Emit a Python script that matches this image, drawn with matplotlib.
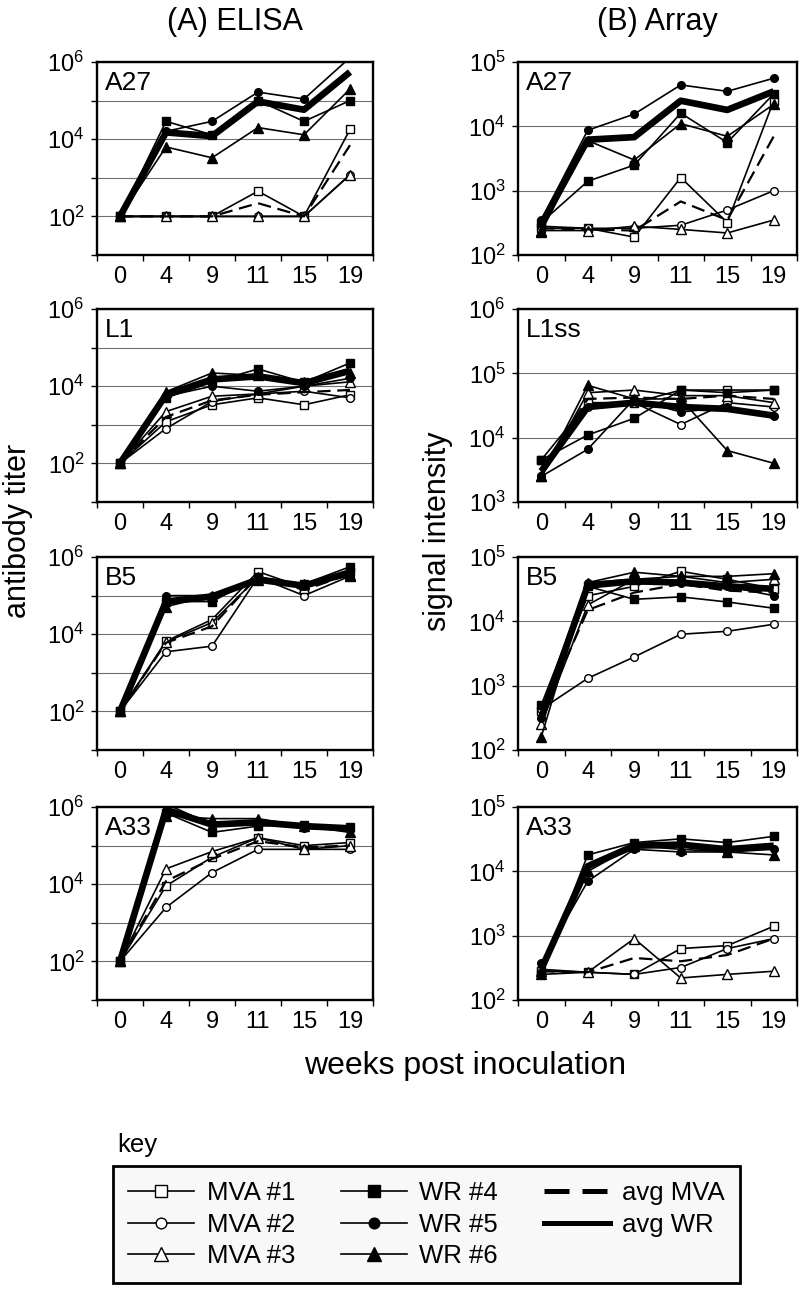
import matplotlib
matplotlib.use("Agg")
from matplotlib import pyplot as plt
from matplotlib.lines import Line2D
from matplotlib.ticker import FixedLocator, FuncFormatter, NullFormatter
import numpy as np

plt.rcParams['font.family'] = ['Liberation Sans', 'DejaVu Sans']

weeks = ['0', '4', '9', '11', '15', '19']

# ELISA titers
elisa_a27 = {
    'MVA #1': [100, 100, 100, 450, 100, 1.8e4],
    'MVA #2': [100, 100, 100, 100, 100, 1.2e3],
    'MVA #3': [100, 100, 100, 100, 100, 1.2e3],
    'WR #4': [100, 2.9e4, 1.3e4, 1.0e5, 2.9e4, 1.0e5],
    'WR #5': [100, 1.6e4, 2.9e4, 1.66e5, 1.1e5, 1.3e6],
    'WR #6': [100, 6.3e3, 3.3e3, 2.0e4, 1.3e4, 2.0e5],
    'avg MVA': [100, 100, 100, 220, 100, 7e3],
    'avg WR': [100, 1.5e4, 1.2e4, 9.5e4, 5.8e4, 5.5e5],
}
elisa_l1 = {
    'MVA #1': [100, 1.2e3, 3.3e3, 5.0e3, 3.3e3, 6.0e3],
    'MVA #2': [100, 800, 4.0e3, 6.3e3, 7.4e3, 5.0e3],
    'MVA #3': [100, 2.2e3, 5.5e3, 6.3e3, 1.0e4, 1.3e4],
    'WR #4': [100, 5.0e3, 1.26e4, 2.8e4, 1.26e4, 4.0e4],
    'WR #5': [100, 5.5e3, 1.0e4, 7.4e3, 1.0e4, 1.6e4],
    'WR #6': [100, 7.2e3, 2.2e4, 1.9e4, 1.3e4, 2.2e4],
    'avg MVA': [100, 1.6e3, 4.3e3, 6.0e3, 7.0e3, 8.0e3],
    'avg WR': [100, 6.0e3, 1.5e4, 1.8e4, 1.2e4, 2.5e4],
}
elisa_b5 = {
    'MVA #1': [100, 6.6e3, 2.4e4, 4.2e5, 1.6e5, 4.0e5],
    'MVA #2': [100, 3.5e3, 4.9e3, 3.0e5, 1.0e5, 3.2e5],
    'MVA #3': [100, 6.3e3, 2.0e4, 3.0e5, 1.6e5, 3.5e5],
    'WR #4': [100, 7.0e4, 7.0e4, 3.0e5, 2.0e5, 5.6e5],
    'WR #5': [100, 1.0e5, 1.0e5, 3.0e5, 1.8e5, 3.5e5],
    'WR #6': [100, 5.2e4, 1.0e5, 2.6e5, 2.0e5, 3.2e5],
    'avg MVA': [100, 6.0e3, 1.6e4, 3.2e5, 1.4e5, 3.6e5],
    'avg WR': [100, 7.0e4, 9.5e4, 2.6e5, 1.8e5, 4.0e5],
}
elisa_a33 = {
    'MVA #1': [100, 9.0e3, 5.0e4, 1.6e5, 1.0e5, 1.2e5],
    'MVA #2': [100, 2.5e3, 2.0e4, 8.0e4, 8.0e4, 8.0e4],
    'MVA #3': [100, 2.5e4, 7.0e4, 1.6e5, 8.0e4, 1.0e5],
    'WR #4': [100, 7.0e5, 2.2e5, 3.2e5, 3.5e5, 3.0e5],
    'WR #5': [100, 1.2e6, 3.5e5, 4.0e5, 2.8e5, 2.5e5],
    'WR #6': [100, 6.0e5, 5.0e5, 5.0e5, 3.2e5, 2.2e5],
    'avg MVA': [100, 1.2e4, 4.5e4, 1.3e5, 9.0e4, 1.0e5],
    'avg WR': [100, 8.5e5, 3.5e5, 4.0e5, 3.2e5, 2.8e5],
}

# array signal intensities
array_a27 = {
    'MVA #1': [260, 260, 190, 1.6e3, 320, 2.5e4],
    'MVA #2': [280, 260, 260, 290, 500, 1.0e3],
    'MVA #3': [240, 240, 280, 250, 220, 350],
    'WR #4': [320, 1.4e3, 2.5e3, 1.6e4, 5.6e3, 3.2e4],
    'WR #5': [350, 8.7e3, 1.55e4, 4.4e4, 3.5e4, 5.6e4],
    'WR #6': [230, 6.0e3, 3.0e3, 1.1e4, 7.0e3, 2.2e4],
    'avg MVA': [260, 250, 240, 680, 350, 7.0e3],
    'avg WR': [300, 6.2e3, 6.8e3, 2.5e4, 1.8e4, 3.5e4],
}
array_l1ss = {
    'MVA #1': [4.5e3, 3.5e4, 3.5e4, 5.5e4, 5.5e4, 5.5e4],
    'MVA #2': [2.5e3, 3.0e4, 3.5e4, 1.6e4, 3.5e4, 3.0e4],
    'MVA #3': [2.5e3, 5.0e4, 5.5e4, 4.5e4, 4.5e4, 3.5e4],
    'WR #4': [4.5e3, 1.1e4, 2.0e4, 5.5e4, 5.0e4, 5.5e4],
    'WR #5': [2.5e3, 6.6e3, 4.0e4, 2.5e4, 3.0e4, 2.2e4],
    'WR #6': [2.5e3, 6.5e4, 4.0e4, 4.0e4, 6.3e3, 4.0e3],
    'avg MVA': [3.2e3, 4.0e4, 4.2e4, 4.0e4, 4.5e4, 4.0e4],
    'avg WR': [3.0e3, 3.0e4, 3.5e4, 3.0e4, 2.8e4, 2.2e4],
}
array_b5 = {
    'MVA #1': [400, 2.5e4, 3.5e4, 6.0e4, 4.5e4, 3.2e4],
    'MVA #2': [430, 1.3e3, 2.8e3, 6.3e3, 7.0e3, 9.0e3],
    'MVA #3': [250, 1.8e4, 4.5e4, 5.0e4, 4.0e4, 4.5e4],
    'WR #4': [500, 3.5e4, 2.2e4, 2.4e4, 2.0e4, 1.6e4],
    'WR #5': [320, 4.0e4, 4.5e4, 4.0e4, 3.5e4, 2.5e4],
    'WR #6': [160, 4.0e4, 5.8e4, 5.0e4, 5.0e4, 5.5e4],
    'avg MVA': [350, 1.5e4, 2.8e4, 3.8e4, 3.0e4, 2.8e4],
    'avg WR': [320, 3.6e4, 4.2e4, 4.0e4, 3.5e4, 3.2e4],
}
array_a33 = {
    'MVA #1': [280, 270, 250, 630, 700, 1.4e3],
    'MVA #2': [300, 270, 250, 320, 630, 900],
    'MVA #3': [250, 270, 900, 220, 250, 280],
    'WR #4': [250, 1.8e4, 2.8e4, 3.2e4, 2.8e4, 3.5e4],
    'WR #5': [380, 7.0e3, 2.2e4, 2.0e4, 2.0e4, 2.2e4],
    'WR #6': [280, 1.0e4, 2.5e4, 2.2e4, 2.0e4, 1.8e4],
    'avg MVA': [280, 270, 450, 400, 500, 900],
    'avg WR': [300, 1.2e4, 2.5e4, 2.6e4, 2.2e4, 2.5e4],
}

panels = [
    ('A27', elisa_a27, (1, 6), 'A27', array_a27, (2, 5)),
    ('L1', elisa_l1, (1, 6), 'L1ss', array_l1ss, (3, 6)),
    ('B5', elisa_b5, (1, 6), 'B5', array_b5, (2, 5)),
    ('A33', elisa_a33, (1, 6), 'A33', array_a33, (2, 5)),
]

styles = {
    'MVA #1': dict(marker='s', mfc='white', ms=6),
    'MVA #2': dict(marker='o', mfc='white', ms=5.5),
    'MVA #3': dict(marker='^', mfc='white', ms=7),
    'WR #4': dict(marker='s', mfc='black', ms=6),
    'WR #5': dict(marker='o', mfc='black', ms=5.5),
    'WR #6': dict(marker='^', mfc='black', ms=7),
}

W, H = 800, 1291
fig = plt.figure(figsize=(W / 100, H / 100), dpi=100)

col_x = [(97, 276), (518, 279)]
row_top = [62, 309, 557, 807]
ph = 193


def draw(ax, label, data, dec, label_every):
    x = np.arange(len(weeks))
    for name, st in styles.items():
        ax.plot(x, data[name], color='black', lw=1.2, mec='black', mew=1.0, **st, zorder=3)
    ax.plot(x, data['avg MVA'], color='black', lw=1.6, dashes=(6, 3), zorder=4)
    ax.plot(x, data['avg WR'], color='black', lw=4.8, solid_capstyle='butt', zorder=4)
    ax.set_yscale('log')
    ax.set_ylim(10 ** dec[0], 10 ** dec[1])
    ax.set_xlim(-0.5, len(weeks) - 0.5)
    decades = [10.0 ** d for d in range(dec[0], dec[1] + 1)]
    ax.yaxis.set_major_locator(FixedLocator(decades))
    ax.yaxis.set_minor_locator(FixedLocator([]))

    def fmt(v, pos):
        e = int(round(np.log10(v)))
        if label_every == 2 and e % 2:
            return ''
        return r'$\mathdefault{10^{%d}}$' % e
    ax.yaxis.set_major_formatter(FuncFormatter(fmt))
    ax.set_xticks(np.arange(-0.5, len(weeks), 1.0))
    ax.xaxis.set_major_formatter(NullFormatter())
    ax.set_xticks(x, minor=True)
    ax.set_xticklabels(weeks, minor=True)
    ax.tick_params(axis='x', which='minor', length=0, pad=8, labelsize=17)
    ax.tick_params(axis='x', which='major', length=4, width=1, direction='out')
    ax.tick_params(axis='y', which='major', length=4, width=1, direction='out', labelsize=17, pad=5)
    ax.grid(axis='y', which='major', color='#707070', lw=0.8)
    ax.set_axisbelow(True)
    for s in ax.spines.values():
        s.set_linewidth(1.7)
    ax.text(0.03, 0.955, label, transform=ax.transAxes, ha='left', va='top', fontsize=19,
            bbox=dict(facecolor='white', edgecolor='none', pad=1))


for i, (l1, d1, dec1, l2, d2, dec2) in enumerate(panels):
    y0 = 1 - (row_top[i] + ph) / H
    axl = fig.add_axes([col_x[0][0] / W, y0, col_x[0][1] / W, ph / H])
    draw(axl, l1, d1, dec1, 2)
    axr = fig.add_axes([col_x[1][0] / W, y0, col_x[1][1] / W, ph / H])
    draw(axr, l2, d2, dec2, 1)

fig.text(235 / W, 1 - 22 / H, '(A) ELISA', ha='center', va='center', fontsize=22)
fig.text(657 / W, 1 - 22 / H, '(B) Array', ha='center', va='center', fontsize=22)
fig.text(18 / W, 1 - 531 / H, 'antibody titer', rotation=90, ha='center', va='center', fontsize=22)
fig.text(438 / W, 1 - 531 / H, 'signal intensity', rotation=90, ha='center', va='center', fontsize=22)
fig.text(465 / W, 1 - 1066 / H, 'weeks post inoculation', ha='center', va='center', fontsize=23)
fig.text(117 / W, 1 - 1145 / H, 'key', ha='left', va='center', fontsize=18.5)

handles = []
for name, st in styles.items():
    big = dict(st)
    big['ms'] = st['ms'] * 1.4
    handles.append(Line2D([], [], color='black', lw=1.2, mec='black', mew=1.0, label=name, **big))
handles.append(Line2D([], [], color='black', lw=3.6, dashes=(5, 2.6), label='avg MVA'))
handles.append(Line2D([], [], color='black', lw=3.6, label='avg WR'))
leg = fig.legend(handles=handles, ncol=3, loc='upper left', bbox_to_anchor=(113 / W, 1 - 1166 / H),
                 fontsize=18.5, frameon=True, fancybox=False, edgecolor='black', facecolor='#f8f8f8',
                 handlelength=2.57, handletextpad=0.47, columnspacing=1.8, labelspacing=0.28,
                 borderpad=0.6, borderaxespad=0, framealpha=1)
leg.get_frame().set_linewidth(2)

fig.savefig('out.png', dpi=100)
